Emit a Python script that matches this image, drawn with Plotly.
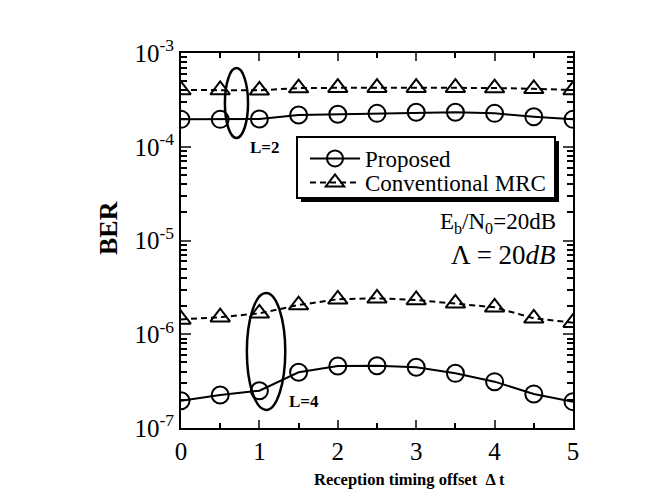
import plotly.graph_objects as go

dt = [0, 0.5, 1, 1.5, 2, 2.5, 3, 3.5, 4, 4.5, 5]
prop_L2 = [1.96e-4, 1.96e-4, 1.98e-4, 2.18e-4, 2.22e-4, 2.27e-4, 2.33e-4, 2.33e-4, 2.27e-4, 2.09e-4, 1.96e-4]
conv_L2 = [4.03e-4, 4.03e-4, 4.0e-4, 4.23e-4, 4.27e-4, 4.27e-4, 4.27e-4, 4.27e-4, 4.23e-4, 4.15e-4, 4.03e-4]
prop_L4 = [1.95e-7, 2.25e-7, 2.50e-7, 3.93e-7, 4.59e-7, 4.62e-7, 4.44e-7, 3.83e-7, 3.12e-7, 2.31e-7, 1.91e-7]
conv_L4 = [1.44e-6, 1.52e-6, 1.67e-6, 2.05e-6, 2.36e-6, 2.42e-6, 2.32e-6, 2.14e-6, 1.94e-6, 1.48e-6, 1.33e-6]

ytick_vals = [1e-7, 1e-6, 1e-5, 1e-4, 1e-3]
ytick_text = ["10<sup>-7</sup>", "10<sup>-6</sup>", "10<sup>-5</sup>", "10<sup>-4</sup>", "10<sup>-3</sup>"]
xtick_vals = [0, 1, 2, 3, 4, 5]

SERIF = "Liberation Serif, Times New Roman, serif"
circ = dict(symbol="circle-open", size=17, color="black", line=dict(width=2, color="black"))
tri = dict(symbol="triangle-up-open", size=17, color="black", line=dict(width=2, color="black"))

# plot area in page pixels (page has an 8px body margin)
PL, PR, PT, PB = 181, 573, 53, 428
W, H = 392.0, 375.0


def px(x):
    return (x - PL) / W


def py(y):
    return (PB - y) / H


fig = go.Figure()
fig.add_trace(go.Scatter(x=dt, y=prop_L2, mode="lines+markers", name="Proposed",
                         line=dict(color="black", width=2), marker=circ, legend="legend"))
fig.add_trace(go.Scatter(x=dt, y=conv_L2, mode="lines+markers", name="Conventional MRC",
                         line=dict(color="black", width=2, dash="6px,4px"), marker=tri, legend="legend2"))
fig.add_trace(go.Scatter(x=dt, y=prop_L4, mode="lines+markers", showlegend=False,
                         line=dict(color="black", width=2), marker=circ))
fig.add_trace(go.Scatter(x=dt, y=conv_L4, mode="lines+markers", showlegend=False,
                         line=dict(color="black", width=2, dash="6px,4px"), marker=tri))

# ellipses grouping the curves
fig.add_shape(type="circle", xref="x", yref="y", x0=0.56, x1=0.855, y0=1.24e-4, y1=6.9e-4,
              line=dict(color="black", width=2.5))
fig.add_shape(type="circle", xref="x", yref="y", x0=0.84, x1=1.33, y0=1.56e-7, y1=2.75e-6,
              line=dict(color="black", width=2.5))

# legend box with drop shadow
fig.add_shape(type="rect", xref="paper", yref="paper",
              x0=px(301), x1=px(559), y0=py(202), y1=py(141),
              fillcolor="black", line=dict(width=0), layer="above")
fig.add_shape(type="rect", xref="paper", yref="paper",
              x0=px(297), x1=px(555), y0=py(198), y1=py(137),
              fillcolor="white", line=dict(width=2, color="black"), layer="above")

fig.add_annotation(x=0.86, y=-4.01, xref="x", yref="y", text="<b>L=2</b>", showarrow=False,
                   xanchor="left", yanchor="middle", font=dict(family=SERIF, size=17, color="black"))
fig.add_annotation(x=1.35, y=-6.72, xref="x", yref="y", text="<b>L=4</b>", showarrow=False,
                   xanchor="left", yanchor="middle", font=dict(family=SERIF, size=17, color="black"))
fig.add_annotation(x=px(558), y=py(223), xref="paper", yref="paper",
                   text="E<sub>b</sub>/N<sub>0</sub>=20dB", showarrow=False, xanchor="right",
                   yanchor="middle", font=dict(family=SERIF, size=23, color="black"))
fig.add_annotation(x=px(558), y=py(255), xref="paper", yref="paper",
                   text="Λ = 20<i>dB</i>", showarrow=False, xanchor="right",
                   yanchor="middle", font=dict(family=SERIF, size=27, color="black"))
fig.add_annotation(x=px(409), y=py(479), xref="paper", yref="paper",
                   text="<b>Reception timing offset  Δ t</b>", showarrow=False,
                   xanchor="center", yanchor="middle", font=dict(family=SERIF, size=16.5, color="black"))
fig.add_annotation(x=px(108), y=py(228), xref="paper", yref="paper",
                   text="<b>BER</b>", showarrow=False, textangle=-90,
                   xanchor="center", yanchor="middle", font=dict(family=SERIF, size=26, color="black"))

leg_common = dict(xanchor="left", yanchor="top", bgcolor="rgba(0,0,0,0)", borderwidth=0,
                  font=dict(family=SERIF, size=23, color="black"), itemwidth=50)
fig.update_layout(
    width=664, height=485,
    margin=dict(l=PL - 8, r=672 - PR, t=PT - 8, b=493 - PB),
    paper_bgcolor="white", plot_bgcolor="white",
    showlegend=True,
    legend=dict(x=px(305), y=py(137), **leg_common),
    legend2=dict(x=px(305), y=py(161), **leg_common),
    font=dict(family=SERIF, color="black"),
)
fig.update_xaxes(range=[0, 5], tickvals=xtick_vals, ticks="inside", ticklen=8, tickwidth=2,
                 showline=True, linecolor="black", linewidth=2, mirror="ticks", showgrid=False,
                 zeroline=False, tickfont=dict(family=SERIF, size=25, color="black"),
                 minor=dict(ticks="inside", ticklen=5, tickwidth=1.5, dtick=0.5, tickcolor="black", showgrid=False))
fig.update_yaxes(type="log", range=[-7, -3], tickvals=ytick_vals, ticktext=ytick_text,
                 ticks="inside", ticklen=10, tickwidth=2, showline=True, linecolor="black",
                 linewidth=2, mirror="ticks", showgrid=False, zeroline=False,
                 tickfont=dict(family=SERIF, size=25, color="black"),
                 minor=dict(ticks="inside", ticklen=6, tickwidth=1.5, dtick="D1", tickcolor="black", showgrid=False))

fig.write_html("out.html")
